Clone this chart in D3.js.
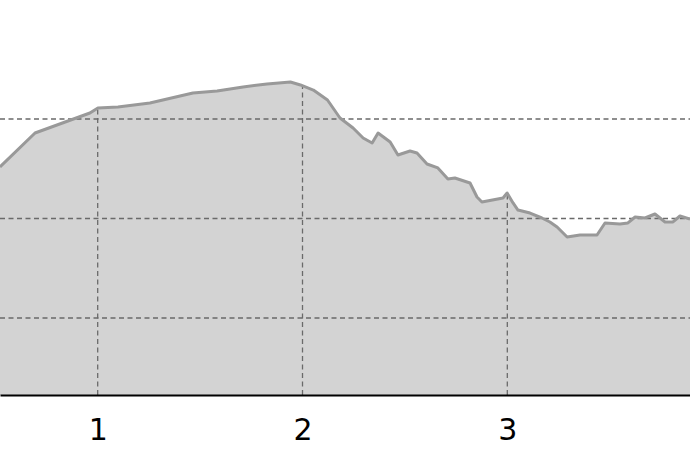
<!DOCTYPE html>
<html lang="en">
<head>
    <meta charset="utf-8">
    <title>Area profile</title>
    <script src="https://cdn.jsdelivr.net/npm/d3@7/dist/d3.min.js"></script>
    <style>
        body { margin: 0; background: #fff; }
        .tick-label { font-family: "DejaVu Sans", sans-serif; font-size: 30px; fill: #000; }
    </style>
</head>
<body>
<script>
    // curve (x in axis units, y in grid units)
    var xValues = [0.523, 0.694, 0.962, 1.001, 1.099, 1.255, 1.465, 1.583, 1.710, 1.827,
        1.941, 1.990, 2.053, 2.122, 2.183, 2.247, 2.296, 2.340, 2.369, 2.428,
        2.466, 2.525, 2.559, 2.608, 2.661, 2.710, 2.744, 2.818, 2.852, 2.876,
        2.979, 2.999, 3.028, 3.052, 3.111, 3.169, 3.208, 3.243, 3.292, 3.355,
        3.438, 3.477, 3.550, 3.589, 3.624, 3.672, 3.721, 3.770, 3.809, 3.843, 3.892];
    var yValues = [2.518, 2.859, 3.060, 3.111, 3.121, 3.161, 3.261, 3.281, 3.322, 3.352,
        3.372, 3.342, 3.291, 3.191, 3.010, 2.910, 2.809, 2.759, 2.859, 2.769,
        2.638, 2.678, 2.658, 2.548, 2.508, 2.397, 2.407, 2.357, 2.216, 2.166,
        2.206, 2.256, 2.156, 2.085, 2.055, 2.005, 1.965, 1.915, 1.814, 1.834,
        1.834, 1.955, 1.945, 1.955, 2.015, 2.005, 2.045, 1.965, 1.965, 2.025, 1.995];
    var xTicks = [1, 2, 3];
    var yTicks = [1, 2, 3];

    var w = 690, h = 460;
    var baseY = 395;

    var data = xValues.map(function (x, i) { return { x: x, y: yValues[i] }; });

    var xScale = d3.scaleLinear().domain([0.523, 3.892]).range([0, w]);
    var yScale = d3.scaleLinear().domain([0.226, 4.196]).range([baseY, 0]);

    var svg = d3.select("body").append("svg")
        .attr("width", w)
        .attr("height", h);

    var area = d3.area()
        .x(function (d) { return xScale(d.x); })
        .y0(baseY)
        .y1(function (d) { return yScale(d.y); });

    var line = d3.line()
        .x(function (d) { return xScale(d.x); })
        .y(function (d) { return yScale(d.y); });

    svg.append("path")
        .datum(data)
        .attr("d", area)
        .attr("fill", "#d3d3d3");

    // horizontal grid across the whole width
    svg.selectAll(".hgrid")
        .data(yTicks)
        .enter().append("line")
        .attr("class", "hgrid")
        .attr("x1", 0).attr("x2", w)
        .attr("y1", d => yScale(d)).attr("y2", d => yScale(d))
        .attr("stroke", "#6a6a6a")
        .attr("stroke-width", 1.3)
        .attr("stroke-dasharray", "5,3.5");

    // vertical grid only runs up to the curve
    var bisect = d3.bisector(function (d) { return d.x; }).left;
    function curveAt(x) {
        var i = bisect(data, x);
        var a = data[i - 1], b = data[i];
        var t = (x - a.x) / (b.x - a.x);
        return a.y + t * (b.y - a.y);
    }

    svg.selectAll(".vgrid")
        .data(xTicks)
        .enter().append("line")
        .attr("class", "vgrid")
        .attr("x1", d => xScale(d)).attr("x2", d => xScale(d))
        .attr("y1", baseY).attr("y2", d => yScale(curveAt(d)))
        .attr("stroke", "#6a6a6a")
        .attr("stroke-width", 1.3)
        .attr("stroke-dasharray", "5,3.5");

    svg.append("path")
        .datum(data)
        .attr("d", line)
        .attr("fill", "none")
        .attr("stroke", "#999")
        .attr("stroke-width", 3)
        .attr("stroke-linejoin", "round");

    // x axis
    var xAxis = d3.axisBottom(xScale)
        .tickValues(xTicks)
        .tickSize(0)
        .tickPadding(24)
        .tickFormat(d3.format("d"));

    var gx = svg.append("g")
        .attr("transform", "translate(0," + baseY + ")")
        .call(xAxis);
    gx.select(".domain")
        .attr("stroke", "#000")
        .attr("stroke-width", 2);
    gx.selectAll("text")
        .attr("class", "tick-label")
        .attr("font-size", null)
        .attr("font-family", null);
</script>
</body>
</html>
